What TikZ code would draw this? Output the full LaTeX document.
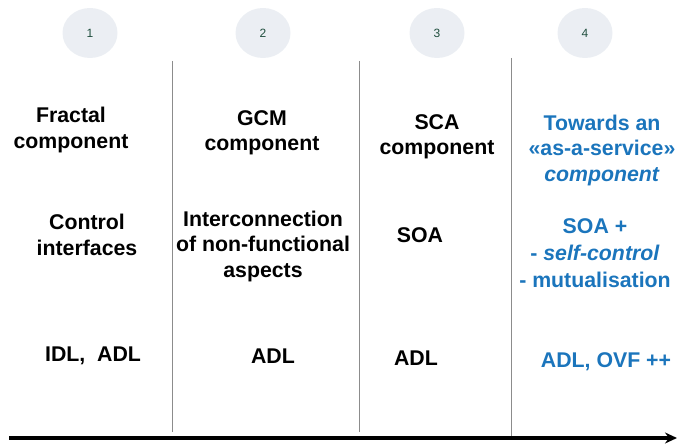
\documentclass[tikz,border=0pt]{standalone}
\usepackage{fontspec}
\setmainfont{Liberation Sans}
\usetikzlibrary{arrows.meta,shapes.geometric}
\definecolor{circfill}{HTML}{EBEEF3}
\definecolor{numcol}{HTML}{1F4E3D}
\definecolor{bluetxt}{HTML}{1B75BC}
\definecolor{sepcol}{HTML}{8C8C8C}
\tikzset{
  stepcirc/.style={ellipse, fill=circfill, minimum width=55pt, minimum height=50pt, inner sep=0pt, text=numcol, font=\fontsize{12}{14}\selectfont},
  lbl/.style={align=center, font=\bfseries\fontsize{21.3}{25.5}\selectfont, inner sep=0pt},
  bluelbl/.style={lbl, text=bluetxt},
  sepline/.style={draw=sepcol, line width=0.8pt},
}
\begin{document}
\begin{tikzpicture}[x=1pt,y=-1pt]
\useasboundingbox (0,0) rectangle (678,446);
% circles
\node[stepcirc] (c1) at (90,33) {1};
\node[stepcirc] (c2) at (263,33) {2};
\node[stepcirc] (c3) at (437,33) {3};
\node[stepcirc] (c4) at (585,33) {4};
% separators
\coordinate (s1t) at (172,61); \coordinate (s1b) at (172,432);
\coordinate (s2t) at (359,61); \coordinate (s2b) at (359,432);
\coordinate (s3t) at (511,58); \coordinate (s3b) at (511,437);
\draw[sepline] (s1t) -- (s1b);
\draw[sepline] (s2t) -- (s2b);
\draw[sepline] (s3t) -- (s3b);
% timeline arrow
\coordinate (ta) at (9,438);
\coordinate (tb) at (677,438);
\draw[line width=3.2pt, -{Stealth[length=12pt,width=11pt]}] (ta) -- (tb);
% column 1
\node[lbl] (a1) at (71,130) {Fractal\\component};
\node[lbl] (a2) at (87,235) {Control\\interfaces};
\node[lbl] (a3) at (93,356) {IDL,\ \ ADL};
% column 2
\node[lbl] (b1) at (262,133) {GCM\\component};
\node[lbl] (b2) at (263,246) {Interconnection\\of non-functional\\aspects};
\node[lbl] (b3) at (273,356) {ADL};
% column 3
\node[lbl] (d1) at (437,137) {SCA\\component};
\node[lbl] (d2) at (420,235) {SOA};
\node[lbl] (d3) at (416,358) {ADL};
% column 4
\node[bluelbl] (e1) at (602,150) {Towards an\\«as-a-service»\\\textit{component}};
\node[bluelbl, font=\bfseries\fontsize{21.3}{27}\selectfont] (e2) at (595,253) {SOA +\\- \textit{self-control}\\- mutualisation};
\node[bluelbl] (e3) at (606,362) {ADL, OVF ++};
\end{tikzpicture}
\end{document}
